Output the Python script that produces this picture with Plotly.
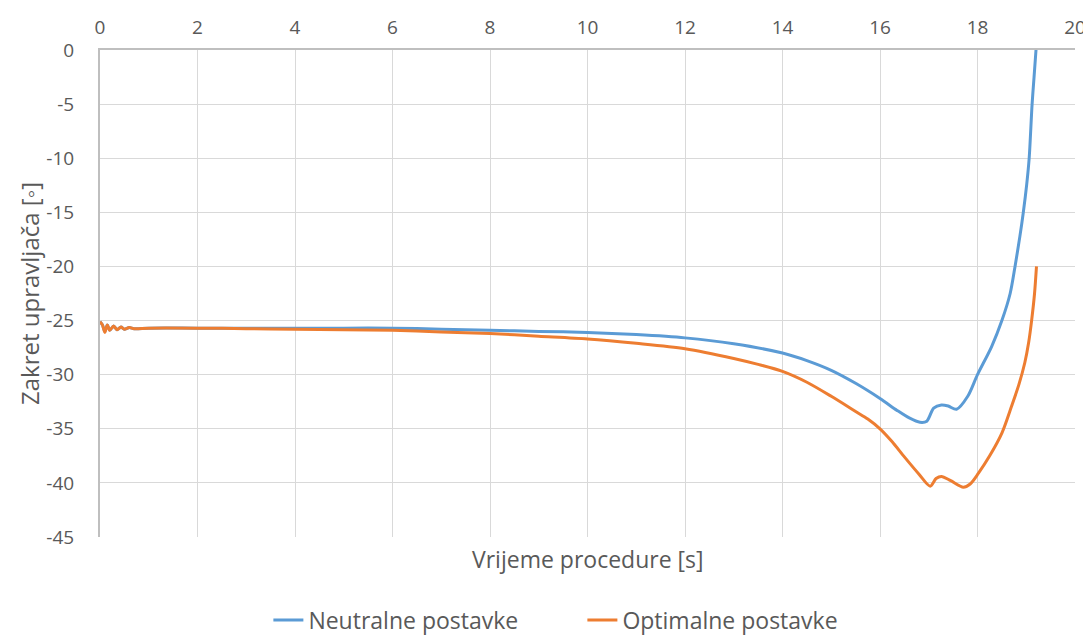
import plotly.graph_objects as go

# Time [s] and steering angle [deg] - Neutralne postavke
t_neutral = [0.0, 0.05, 0.1, 0.15, 0.2, 0.28, 0.35, 0.43, 0.5, 0.6, 0.7, 1.0, 2.0, 3.0, 4.0, 5.0, 6.0,
             7.0, 8.0, 9.0, 10.0, 11.0, 12.0, 13.0, 14.0, 14.5, 15.0, 15.5, 16.0, 16.35, 16.6, 16.82,
             16.96, 17.1, 17.26, 17.4, 17.57, 17.8, 18.0, 18.29, 18.5, 18.67, 18.77, 18.87, 18.94,
             19.01, 19.06, 19.12, 19.16, 19.2]
v_neutral = [-25.1, -25.4, -26.0, -25.4, -25.9, -25.5, -25.85, -25.6, -25.8, -25.65, -25.75, -25.7,
             -25.7, -25.7, -25.7, -25.7, -25.7, -25.8, -25.9, -26.0, -26.1, -26.3, -26.6,
             -27.15, -28.0, -28.7, -29.6, -30.8, -32.2, -33.3, -34.0, -34.4, -34.3, -33.1, -32.8,
             -32.9, -33.2, -32.0, -30.0, -27.4, -25.0, -22.5, -20.0, -17.2, -15.0, -12.4, -10.0,
             -5.0, -2.5, 0.0]

# Optimalne postavke
t_optimal = [0.0, 0.05, 0.1, 0.15, 0.2, 0.28, 0.35, 0.43, 0.5, 0.6, 0.7, 1.0, 2.0, 3.0, 4.0, 5.0, 6.0,
             7.0, 8.0, 9.0, 10.0, 11.0, 12.0, 13.0, 13.5, 14.0, 14.5, 15.0, 15.5, 15.75, 16.0, 16.25,
             16.5, 16.8, 17.03, 17.15, 17.26, 17.45, 17.71, 17.85, 18.02, 18.25, 18.5, 18.7, 18.85,
             18.97, 19.05, 19.11, 19.17, 19.21]
v_optimal = [-25.1, -25.4, -26.1, -25.4, -25.9, -25.5, -25.85, -25.6, -25.8, -25.65, -25.75, -25.7,
             -25.7, -25.75, -25.8, -25.85, -25.9, -26.05, -26.2, -26.45, -26.7, -27.1, -27.6,
             -28.5, -29.05, -29.7, -30.7, -32.0, -33.4, -34.1, -35.0, -36.2, -37.6, -39.2, -40.3,
             -39.6, -39.4, -39.8, -40.4, -40.1, -39.1, -37.5, -35.4, -32.9, -30.9, -28.9, -27.0,
             -25.0, -22.5, -20.0]

x_ticks = [0, 2, 4, 6, 8, 10, 12, 14, 16, 18, 20]
y_ticks = [0, -5, -10, -15, -20, -25, -30, -35, -40, -45]

font_family = "Open Sans"
txt = "#595959"

fig = go.Figure()
fig.add_trace(go.Scatter(x=t_neutral, y=v_neutral, mode="lines", name="Neutralne postavke",
                         line=dict(color="#5B9BD5", width=3, shape="spline", smoothing=0.8)))
fig.add_trace(go.Scatter(x=t_optimal, y=v_optimal, mode="lines", name="Optimalne postavke",
                         line=dict(color="#ED7D31", width=3, shape="spline", smoothing=0.8)))

fig.update_layout(
    width=1083, height=627,
    margin=dict(l=92, r=16, t=42, b=98),
    paper_bgcolor="white", plot_bgcolor="white",
    font=dict(family=font_family, color=txt, size=19),
    showlegend=True,
    legend=dict(orientation="h", x=0.1727, xanchor="left", xref="paper",
                y=0.024, yanchor="middle", yref="container",
                font=dict(size=23, color=txt), entrywidth=269, entrywidthmode="pixels"),
    xaxis=dict(range=[0, 20], tickvals=x_ticks, ticktext=[str(v) for v in x_ticks], side="top",
               showgrid=True, gridcolor="#D9D9D9", gridwidth=1.3, showline=True,
               linecolor="#BFBFBF", linewidth=2, zeroline=False, automargin=False,
               ticks="", ticklabelstandoff=6, tickfont=dict(size=19, color=txt)),
    yaxis=dict(range=[-45, 0], tickvals=y_ticks, ticktext=[str(v) for v in y_ticks],
               showgrid=True, gridcolor="#D9D9D9", gridwidth=1.3, automargin=False,
               showline=True, linecolor="#BFBFBF", linewidth=2, zeroline=False, ticks="",
               ticklabelstandoff=20, tickfont=dict(size=19, color=txt),
               title=dict(text="Zakret upravljača [◦]", font=dict(size=24, color=txt), standoff=0)),
    annotations=[dict(text="Vrijeme procedure [s]", x=0.5, xref="paper", y=-0.046, yref="paper",
                      xanchor="center", yanchor="middle", showarrow=False,
                      font=dict(size=23, color=txt))],
)

fig.write_html("out.html")
